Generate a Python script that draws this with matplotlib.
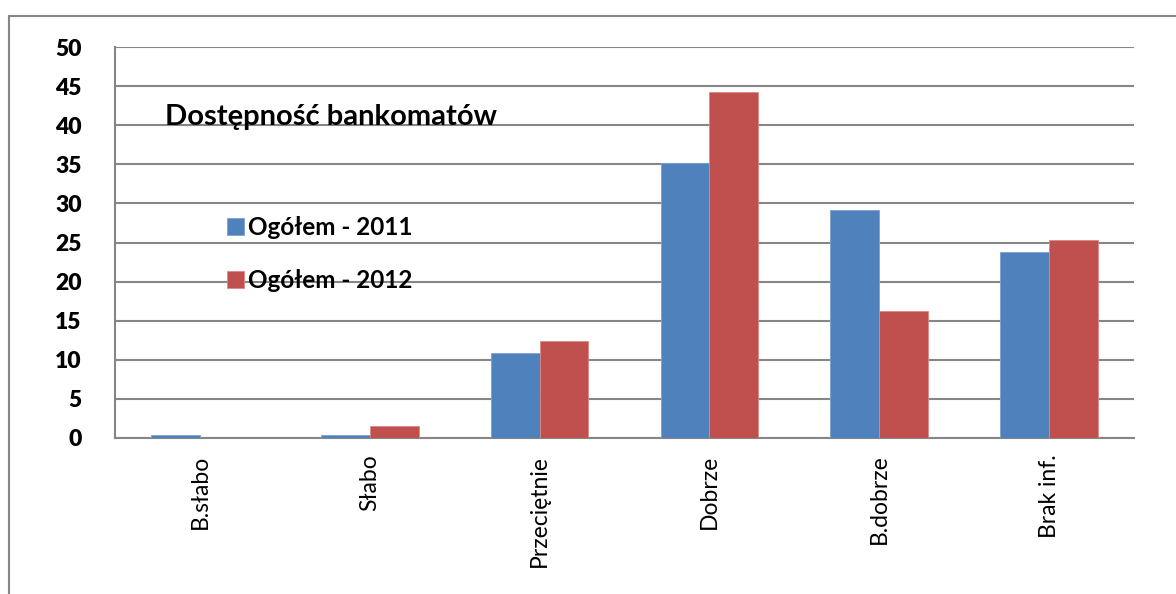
import matplotlib.pyplot as plt
from matplotlib.patches import Rectangle
import numpy as np

categories = ["B.słabo", "Słabo", "Przeciętnie", "Dobrze", "B.dobrze", "Brak inf."]
values_2011 = [0.4, 0.4, 10.9, 35.2, 29.1, 23.8]
values_2012 = [0.0, 1.5, 12.4, 44.3, 16.2, 25.3]
series_names = ["Ogółem - 2011", "Ogółem - 2012"]
title = "Dostępność bankomatów"
yticks = np.arange(0, 51, 5)

plt.rcParams['font.family'] = ['Lato', 'DejaVu Sans']

W, H = 1176, 594
fig = plt.figure(figsize=(W / 100, H / 100), dpi=100)

# outer chart border (runs off the right and bottom edges)
fig.patches.append(Rectangle((9 / W, -0.1), 1.2, 1 - 16 / H + 0.1,
                             transform=fig.transFigure, fill=False,
                             edgecolor='#868686', linewidth=1.5))

ax = fig.add_axes([115 / W, 1 - 438 / H, (1134 - 115) / W, (438 - 47) / H])

ind = np.arange(len(categories))
width = 0.288
ax.bar(ind - width / 2, values_2011, width, color='#4F81BD',
       edgecolor='#7FA1CF', linewidth=0.6, label=series_names[0], zorder=3)
ax.bar(ind + width / 2, values_2012, width, color='#C0504D',
       edgecolor='#D98A88', linewidth=0.6, label=series_names[1], zorder=3)

ax.set_xlim(-0.5, len(categories) - 0.5)
ax.set_ylim(0, 50)
ax.yaxis.grid(True, color='#868686', linewidth=1.5)
ax.set_axisbelow(True)

for s in ['top', 'right']:
    ax.spines[s].set_visible(False)
for s in ['left', 'bottom']:
    ax.spines[s].set_color('#868686')
    ax.spines[s].set_linewidth(1.5)

ax.set_yticks(yticks)
ax.tick_params(axis='y', length=0, pad=24)
ax.set_xticks(ind)
ax.set_xticklabels(categories, rotation=90, fontsize=16.5)
ax.tick_params(axis='x', length=0, pad=12)

# y labels bold, set last so nothing resets them
for lbl in ax.get_yticklabels():
    lbl.set_fontsize(16.5)
    lbl.set_fontweight('heavy')

# title inside the plot
ax.text((165 - 115) / (1134 - 115), (438 - 117) / (438 - 47), title,
        transform=ax.transAxes, fontsize=21, fontweight='bold', va='center', ha='left')

# legend
ax.legend(loc='upper left', bbox_to_anchor=((227 - 115) / (1134 - 115), (438 - 216) / (438 - 47)),
          frameon=False, handlelength=0.7, handleheight=0.7, handletextpad=0.15,
          labelspacing=1.25, borderaxespad=0, borderpad=0,
          prop={'weight': 'bold', 'size': 17.5})

fig.savefig("out.png", dpi=100)
